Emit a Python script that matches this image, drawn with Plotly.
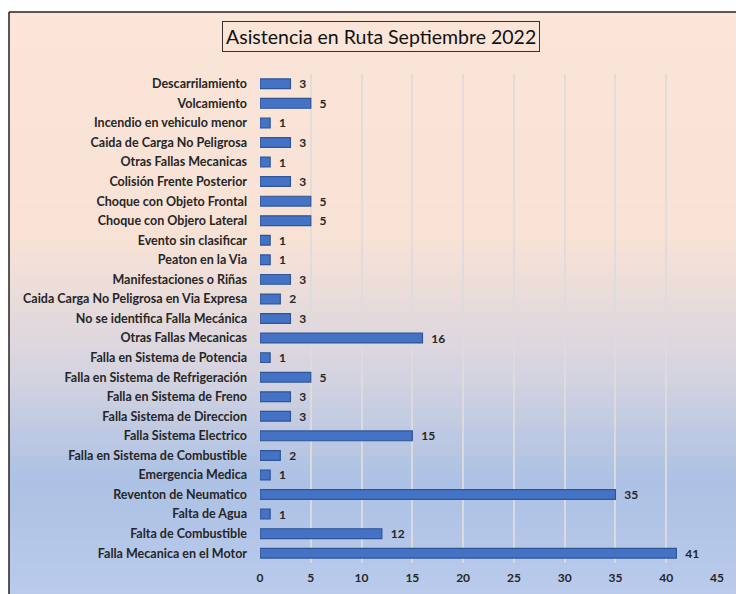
import plotly.graph_objects as go

# categories from bottom to top (as they appear in the chart)
categorias = [
    "Falla Mecanica en el Motor",
    "Falta de Combustible",
    "Falta de Agua",
    "Reventon de Neumatico",
    "Emergencia Medica",
    "Falla en Sistema de Combustible",
    "Falla Sistema Electrico",
    "Falla Sistema de Direccion",
    "Falla en Sistema de Freno",
    "Falla en Sistema de Refrigeración",
    "Falla en Sistema de Potencia",
    "Otras Fallas Mecanicas",
    "No se identifica Falla Mecánica",
    "Caida Carga No Peligrosa en Via Expresa",
    "Manifestaciones o Riñas",
    "Peaton en la Via",
    "Evento sin clasificar",
    "Choque con Objero Lateral",
    "Choque con Objeto Frontal",
    "Colisión Frente Posterior",
    "Otras Fallas Mecanicas\u200b",  # repeated label, kept distinct
    "Caida de Carga No Peligrosa",
    "Incendio en vehiculo menor",
    "Volcamiento",
    "Descarrilamiento",
]
cantidades = [41, 12, 1, 35, 1, 2, 15, 3, 3, 5, 1, 16, 3, 2, 3, 1, 1, 5, 5, 3, 1, 3, 1, 5, 3]
x_ticks = [0, 5, 10, 15, 20, 25, 30, 35, 40, 45]

# page body has an 8px margin, so the figure is a bit smaller than the window
OFF = 8
W, H = 744 - OFF, 594 - OFF
FONT = "Lato"
TXT = "#262626"


def px_x(p):
    return (p - OFF) / W


def px_y(p):
    return 1 - (p - OFF) / H


bars = go.Bar(
    y=categorias,
    x=cantidades,
    orientation="h",
    marker=dict(color="#4472C4", line=dict(color="#2F5597", width=1.2)),
    width=0.5,
    text=[f"  {v}" for v in cantidades],
    textposition="outside",
    constraintext="none",
    cliponaxis=False,
    textfont=dict(family=FONT, size=12, color=TXT, weight="bold"),
    hoverinfo="x+y",
)

# gradient background (peach -> blue) built from thin stripes
stops = [(12, (250, 229, 216)), (240, (248, 226, 214)), (370, (214, 212, 224)),
         (480, (172, 193, 228)), (594, (186, 203, 236))]


def grad(p):
    for (p0, c0), (p1, c1) in zip(stops[:-1], stops[1:]):
        if p <= p1:
            f = (p - p0) / (p1 - p0)
            return tuple(round(c0[k] + (c1[k] - c0[k]) * f) for k in range(3))
    return stops[-1][1]


x0p, y0p = px_x(9), px_y(12)
shapes = []
step = 6
for p in range(12, 594, step):
    col = grad(p + step / 2)
    shapes.append(dict(type="rect", xref="paper", yref="paper",
                       x0=x0p, x1=1.0, y0=px_y(p + step + 1), y1=px_y(p),
                       fillcolor="rgb(%d,%d,%d)" % col, line=dict(width=0),
                       layer="below"))
# border lines (left and top)
shapes.append(dict(type="line", xref="paper", yref="paper", x0=x0p, x1=x0p,
                   y0=0, y1=y0p, line=dict(color="#2a2020", width=1.5)))
shapes.append(dict(type="line", xref="paper", yref="paper", x0=x0p, x1=1.0,
                   y0=y0p, y1=y0p, line=dict(color="#2a2020", width=1.5)))

layout = go.Layout(
    width=W, height=H,
    margin=dict(l=0, r=0, t=0, b=0),
    paper_bgcolor="white",
    plot_bgcolor="rgba(0,0,0,0)",
    showlegend=False,
    shapes=shapes,
    xaxis=dict(
        domain=[px_x(260), px_x(717)],
        range=[0, 45],
        tickvals=x_ticks,
        showgrid=True, gridcolor="rgba(222,220,222,0.9)", gridwidth=1.5,
        zeroline=False, showline=False, ticks="",
        tickfont=dict(family=FONT, size=12, color=TXT, weight="bold"),
        ticklabelstandoff=6,
        automargin=False,
    ),
    yaxis=dict(
        domain=[px_y(563), px_y(74)],
        type="category",
        showgrid=False, zeroline=False, showline=False, ticks="",
        tickfont=dict(family=FONT, size=12.5, color=TXT, weight="bold"),
        ticklabelstandoff=12,
        automargin=False,
    ),
    annotations=[dict(
        text="Asistencia en Ruta Septiembre 2022",
        xref="paper", yref="paper", x=px_x(381), y=px_y(37),
        xanchor="center", yanchor="middle", showarrow=False,
        font=dict(family=FONT, size=19.5, color="#111111"),
        bordercolor="#3a3030", borderwidth=1, borderpad=3,
        bgcolor="rgba(0,0,0,0)",
    )],
)

fig = go.Figure(data=[bars], layout=layout)
fig.write_html("out.html")
